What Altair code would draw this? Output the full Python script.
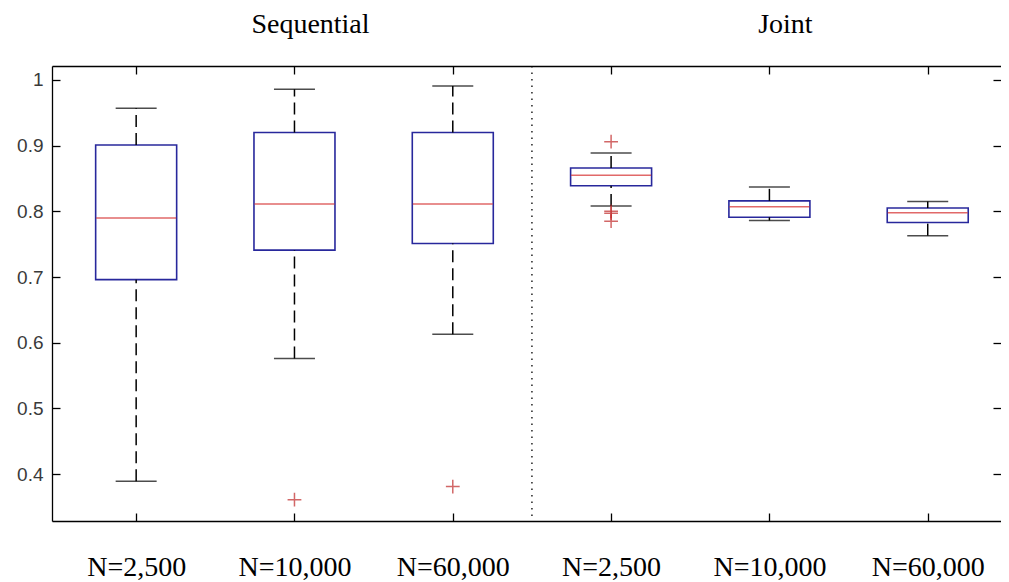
import altair as alt
import pandas as pd

# ---- data ----
groups = [1, 2, 3, 4, 5, 6]
labels = ["N=2,500", "N=10,000", "N=60,000", "N=2,500", "N=10,000", "N=60,000"]
upper = [0.957, 0.986, 0.991, 0.889, 0.837, 0.815]
q3 = [0.901, 0.920, 0.920, 0.866, 0.816, 0.805]
median = [0.790, 0.811, 0.811, 0.855, 0.807, 0.798]
q1 = [0.696, 0.741, 0.751, 0.839, 0.791, 0.783]
lower = [0.389, 0.576, 0.613, 0.808, 0.786, 0.763]
outlier_group = [2, 3, 4, 4, 4, 4]
outlier_value = [0.361, 0.381, 0.906, 0.800, 0.797, 0.785]
panel_titles = ["Sequential", "Joint"]
panel_centers = [2, 5]
separator = [3.5]
y_ticks = [0.4, 0.5, 0.6, 0.7, 0.8, 0.9, 1.0]

W, H = 949, 455
x_scale = alt.Scale(domain=[0.5, 6.43125], nice=False, zero=False)
y_scale = alt.Scale(domain=[0.3285, 1.0213], nice=False, zero=False)

box_df = pd.DataFrame({"g": groups, "q1": q1, "q3": q3, "med": median,
                       "lo": lower, "hi": upper, "label": labels})
whisk_df = pd.concat([
    pd.DataFrame({"g": groups, "a": q3, "b": upper}),
    pd.DataFrame({"g": groups, "a": lower, "b": q1}),
])
cap_df = pd.concat([
    pd.DataFrame({"g": groups, "v": upper}),
    pd.DataFrame({"g": groups, "v": lower}),
])
out_df = pd.DataFrame({"g": outlier_group, "v": outlier_value})
sep_df = pd.DataFrame({"s": separator})
title_df = pd.DataFrame({"g": panel_centers, "t": panel_titles})

label_expr = "[" + ",".join("'%s'" % l for l in labels) + "][datum.value - 1]"

common_axis = dict(grid=False, domainColor="black", tickColor="black",
                   domainWidth=1.3, tickWidth=1.3)

# boxes: bottom x axis (labels + line), left y axis (labels + line)
boxes = alt.Chart(box_df).mark_bar(size=81, fill="white", stroke="#28289c",
                                   strokeWidth=1.6).encode(
    x=alt.X("g:Q", scale=x_scale, title=None,
            axis=alt.Axis(orient="bottom", values=groups, labelExpr=label_expr,
                          ticks=False, tickSize=0, domain=True,
                          labelFont="Liberation Serif", labelFontSize=28,
                          labelColor="black", labelPadding=32, **common_axis)),
    y=alt.Y("q1:Q", scale=y_scale, title=None,
            axis=alt.Axis(orient="left", values=y_ticks, format="~g",
                          ticks=False, tickSize=0, domain=True,
                          labelFont="Liberation Sans", labelFontSize=19,
                          labelColor="#3a3a3a", labelPadding=9, **common_axis)),
    y2="q3:Q",
)

# whiskers: inward ticks at bottom (top-orient axis moved down) and at left
whiskers = alt.Chart(whisk_df).mark_rule(color="black", strokeWidth=1.5,
                                         strokeDash=[12, 6]).encode(
    x=alt.X("g:Q", scale=x_scale, title=None,
            axis=alt.Axis(orient="top", offset=-H, values=groups, labels=False,
                          domain=False, ticks=True, tickSize=8, **common_axis)),
    y=alt.Y("a:Q", scale=y_scale, title=None,
            axis=alt.Axis(orient="right", offset=-W, values=y_ticks, labels=False,
                          domain=False, ticks=True, tickSize=8, **common_axis)),
    y2="b:Q",
)

# caps: top border line with inward ticks
caps = alt.Chart(cap_df).mark_tick(orient="horizontal", size=41, thickness=1.5,
                                   color="black").encode(
    x=alt.X("g:Q", scale=x_scale, title=None,
            axis=alt.Axis(orient="bottom", offset=-H, values=groups, labels=False,
                          domain=True, ticks=True, tickSize=8, **common_axis)),
    y=alt.Y("v:Q", scale=y_scale, title=None, axis=None),
)

# medians: right-side inward ticks
medians = alt.Chart(box_df).mark_tick(orient="horizontal", size=80, thickness=1.5,
                                      color="#d42a2a").encode(
    x=alt.X("g:Q", scale=x_scale, title=None, axis=None),
    y=alt.Y("med:Q", scale=y_scale, title=None,
            axis=alt.Axis(orient="left", offset=-W, values=y_ticks, labels=False,
                          domain=False, ticks=True, tickSize=8, **common_axis)),
)

outliers = alt.Chart(out_df).mark_point(shape="M-1,0L1,0M0,-1L0,1", filled=False,
                                        stroke="#c02828", strokeWidth=1.5,
                                        size=190).encode(
    x=alt.X("g:Q", scale=x_scale, axis=None),
    y=alt.Y("v:Q", scale=y_scale, axis=None),
)

sep = alt.Chart(sep_df).mark_rule(color="black", strokeWidth=1.3,
                                  strokeDash=[1.5, 5]).encode(
    x=alt.X("s:Q", scale=x_scale, axis=None),
)

titles = alt.Chart(title_df).mark_text(font="Liberation Serif", fontSize=28,
                                       baseline="alphabetic", align="center",
                                       dx=16, color="black").encode(
    x=alt.X("g:Q", scale=x_scale, axis=None),
    y=alt.value(-33),
    text="t:N",
)

chart = alt.layer(boxes, whiskers, caps, medians, outliers, sep, titles).resolve_axis(
    x="independent", y="independent"
).properties(
    width=W, height=H,
    autosize=alt.AutoSizeParams(type="none"),
    padding={"left": 44, "top": 58, "right": 0, "bottom": 60},
).configure_view(strokeWidth=0).configure(background="white")

chart.save("out.html", embed_options={"renderer": "svg", "actions": False})
